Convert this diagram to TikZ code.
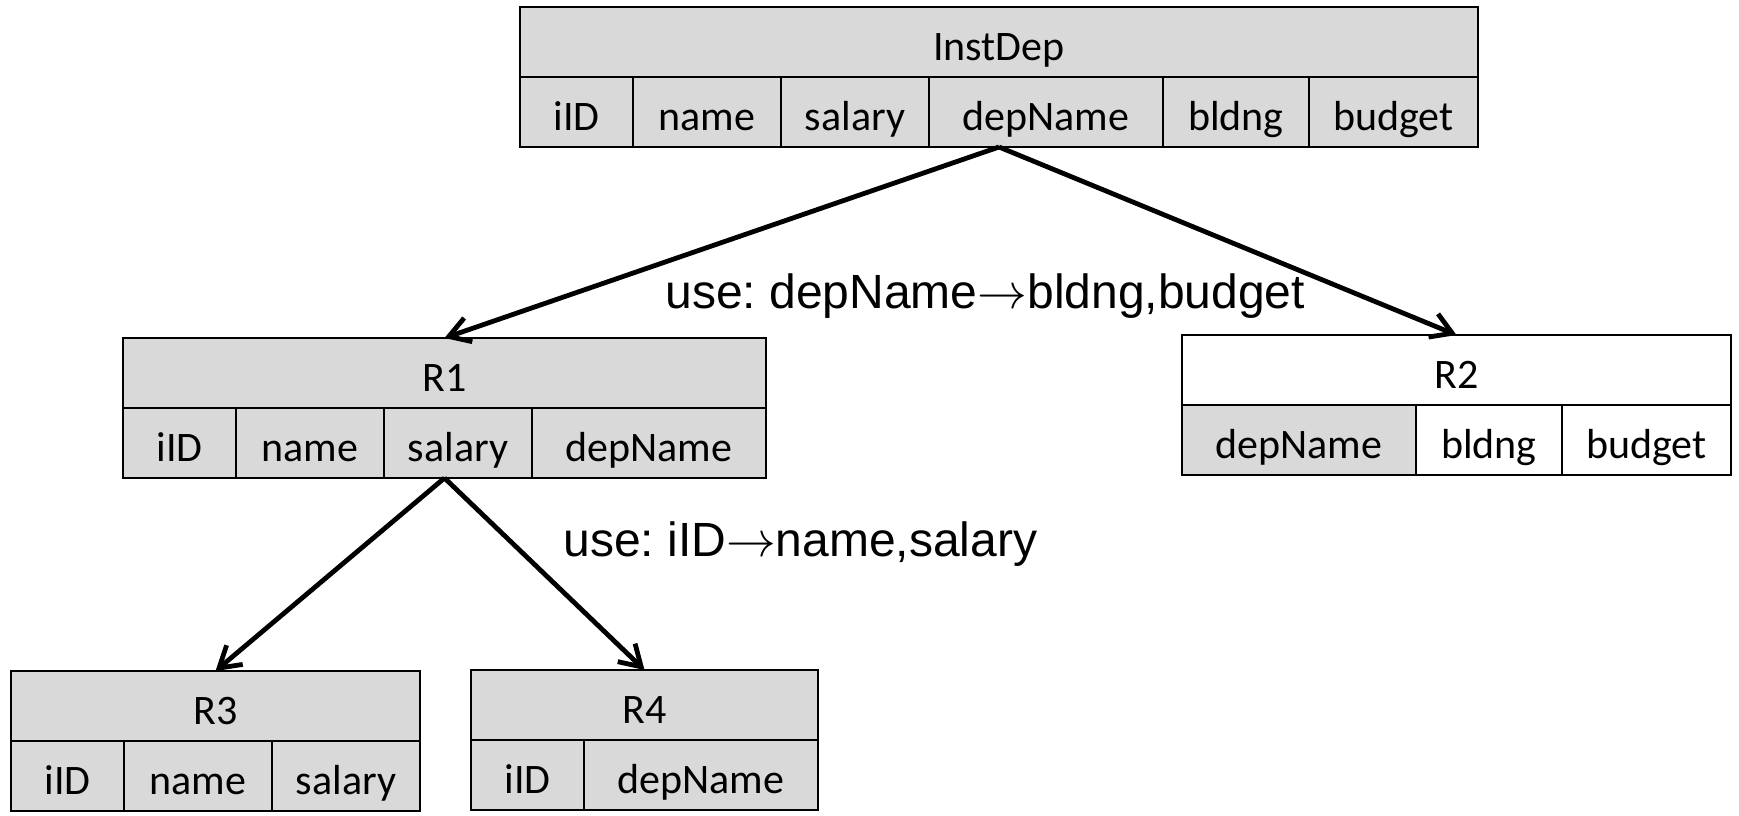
\documentclass[tikz,border=0pt]{standalone}
\usepackage{fontspec}
\setmainfont{Carlito}
\newfontfamily\lblfont{Liberation Sans}
\usetikzlibrary{positioning,arrows.meta}
\definecolor{relgray}{RGB}{217,217,217}
\tikzset{
  rel/.style={font=\fontsize{21}{25}\selectfont, text=black},
  relcell/.style 2 args={
    rel, draw=black, fill=#2, line width=1.2pt, minimum width=#1,
    minimum height=35pt, text height=22pt, text depth=3.8pt,
    inner sep=0pt, outer sep=0pt, anchor=north west
  },
  relarr/.style={-{Straight Barb[length=3.6mm,width=4.4mm]}, line width=2.4pt, draw=black},
  rellbl/.style={font=\lblfont\fontsize{24}{28}\selectfont\frenchspacing, inner sep=0pt, anchor=base west},
}

\begin{document}
\begin{tikzpicture}[x=0.5pt, y=-0.5pt]
  \useasboundingbox (0,0) rectangle (1739,815);

  % InstDep
  \node[relcell={56.5pt}{relgray}] (i1) at (520,77) {iID};
  \node[relcell={74pt}{relgray}, right=0pt of i1] (i2) {name};
  \node[relcell={74pt}{relgray}, right=0pt of i2] (i3) {salary};
  \node[relcell={117pt}{relgray}, right=0pt of i3] (i4) {depName};
  \node[relcell={73pt}{relgray}, right=0pt of i4] (i5) {bldng};
  \node[relcell={84.5pt}{relgray}, right=0pt of i5] (i6) {budget};
  \node[relcell={479pt}{relgray}, above right=0pt and 0pt of i1.north west] (inst) {InstDep};

  % R1
  \node[relcell={56.5pt}{relgray}] (a1) at (123,408) {iID};
  \node[relcell={74pt}{relgray}, right=0pt of a1] (a2) {name};
  \node[relcell={74pt}{relgray}, right=0pt of a2] (a3) {salary};
  \node[relcell={117pt}{relgray}, right=0pt of a3] (a4) {depName};
  \node[relcell={321.5pt}{relgray}, above right=0pt and 0pt of a1.north west] (r1) {R1};

  % R2
  \node[relcell={117pt}{relgray}] (b1) at (1182,405) {depName};
  \node[relcell={73pt}{white}, right=0pt of b1] (b2) {bldng};
  \node[relcell={84.5pt}{white}, right=0pt of b2] (b3) {budget};
  \node[relcell={274.5pt}{white}, above right=0pt and 0pt of b1.north west] (r2) {R2};

  % R3
  \node[relcell={56.5pt}{relgray}] (c1) at (11,741) {iID};
  \node[relcell={74pt}{relgray}, right=0pt of c1] (c2) {name};
  \node[relcell={74pt}{relgray}, right=0pt of c2] (c3) {salary};
  \node[relcell={204.5pt}{relgray}, above right=0pt and 0pt of c1.north west] (r3) {R3};

  % R4
  \node[relcell={56.5pt}{relgray}] (d1) at (471,740) {iID};
  \node[relcell={117pt}{relgray}, right=0pt of d1] (d2) {depName};
  \node[relcell={173.5pt}{relgray}, above right=0pt and 0pt of d1.north west] (r4) {R4};

  \draw[relarr] (inst.south |- i4.south) -- (r1.north);
  \draw[relarr] (inst.south |- i4.south) -- (r2.north);
  \draw[relarr] (r1.south |- a3.south) -- (r3.north);
  \draw[relarr] (r1.south |- a3.south) -- (r4.north);

  \node[rellbl] (fd1) at (665,308) {use: depName$\rightarrow$bldng,budget};
  \node[rellbl] (fd2) at (563,556) {use: iID$\rightarrow$name,salary};
\end{tikzpicture}
\end{document}
